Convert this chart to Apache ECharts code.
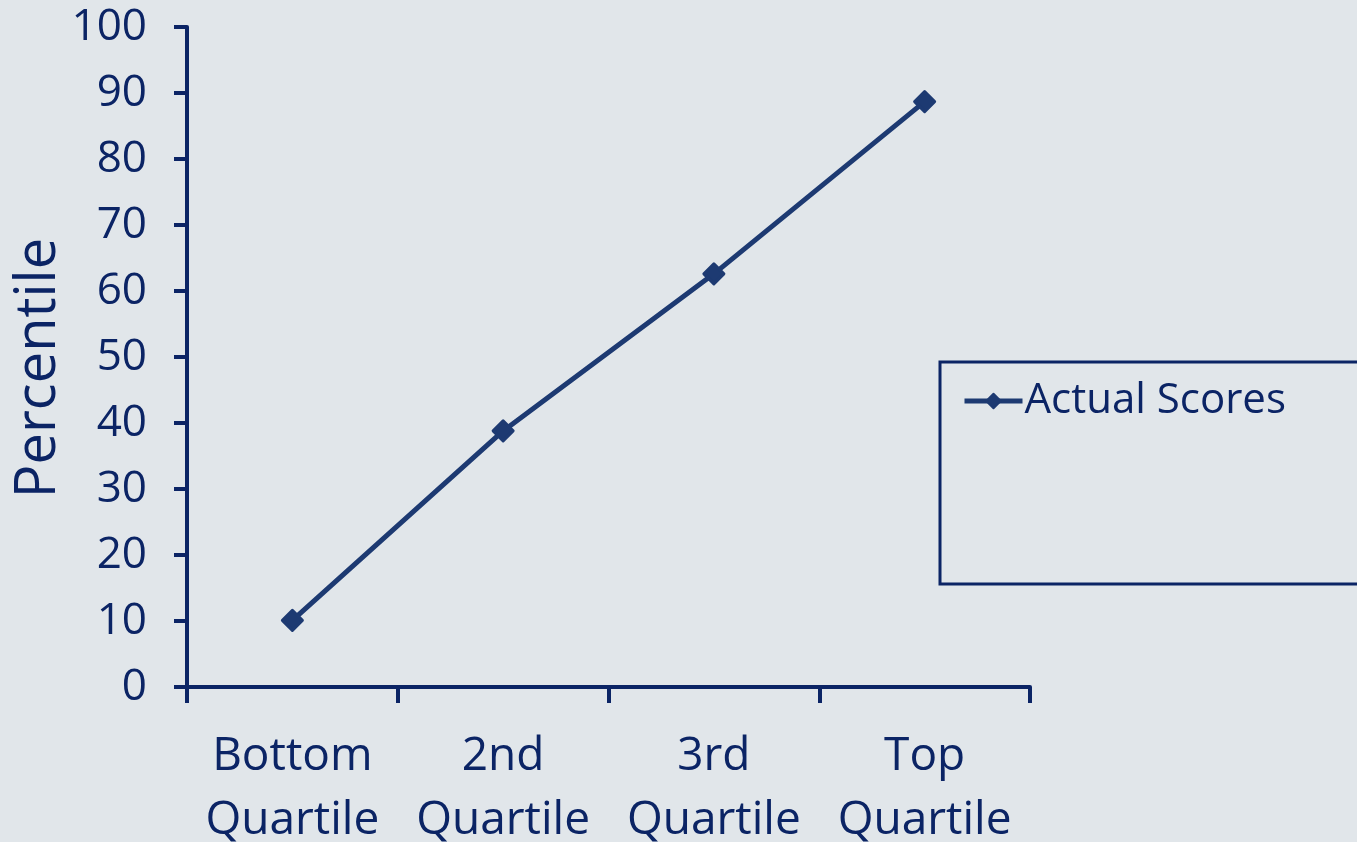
<!DOCTYPE html>
<html>
<head>
<meta charset="utf-8">
<script src="https://cdn.jsdelivr.net/npm/echarts@6/dist/echarts.min.js"></script>
<style>
  html, body { margin: 0; padding: 0; background: #e1e6ea; }
  #chart { width: 1357px; height: 842px; }
</style>
</head>
<body>
<div id="chart"></div>
<script>
// Quartile groups and their percentile scores
const categories = ['Bottom\nQuartile', '2nd\nQuartile', '3rd\nQuartile', 'Top\nQuartile'];
const actualScores = [10.1, 38.8, 62.6, 88.7];
const seriesName = 'Actual Scores';
const yAxisTitle = 'Percentile';

const navy = '#0b2465';
const lineColor = '#1d3a72';
const font = 'Open Sans';

const chart = echarts.init(document.getElementById('chart'), null, { renderer: 'canvas' });
chart.setOption({
  backgroundColor: '#e1e6ea',
  animation: false,
  textStyle: { fontFamily: font, color: navy },
  grid: { left: 187, right: 327, top: 27, bottom: 155, containLabel: false, outerBoundsMode: 'none' },
  // vertical y-axis title, set left of the tick labels
  graphic: [{
    type: 'text',
    x: 39,
    y: 368,
    rotation: Math.PI / 2,
    silent: true,
    style: {
      text: yAxisTitle,
      fill: navy,
      font: '56px "Open Sans"',
      textAlign: 'center',
      textVerticalAlign: 'middle'
    }
  }],
  legend: {
    left: 940,
    top: 362,
    orient: 'vertical',
    padding: [18, 140, 162, 22],
    borderColor: navy,
    borderWidth: 3,
    itemWidth: 58,
    itemHeight: 18,
    itemGap: 0,
    lineStyle: { width: 5 },
    textStyle: { fontFamily: font, fontSize: 42, color: navy, padding: [0, 0, 0, -3] },
    data: [seriesName]
  },
  xAxis: {
    type: 'category',
    data: categories,
    boundaryGap: true,
    axisLine: { lineStyle: { color: navy, width: 4 } },
    axisTick: { show: true, length: 16, lineStyle: { color: navy, width: 4 } },
    axisLabel: { interval: 0, fontFamily: font, fontSize: 46, color: navy, lineHeight: 64, margin: 38 },
    splitLine: { show: false }
  },
  yAxis: {
    type: 'value',
    min: 0,
    max: 100,
    interval: 10,
    axisLine: { show: true, lineStyle: { color: navy, width: 4 } },
    axisTick: { show: true, length: 13, lineStyle: { color: navy, width: 4 } },
    axisLabel: { fontFamily: font, fontSize: 44, color: navy, margin: 40 },
    splitLine: { show: false }
  },
  series: [{
    name: seriesName,
    type: 'line',
    data: actualScores,
    symbol: 'diamond',
    symbolSize: 20,
    lineStyle: { color: lineColor, width: 5 },
    itemStyle: { color: lineColor, borderColor: lineColor, borderWidth: 3, borderJoin: 'round' }
  }]
});
</script>
</body>
</html>
